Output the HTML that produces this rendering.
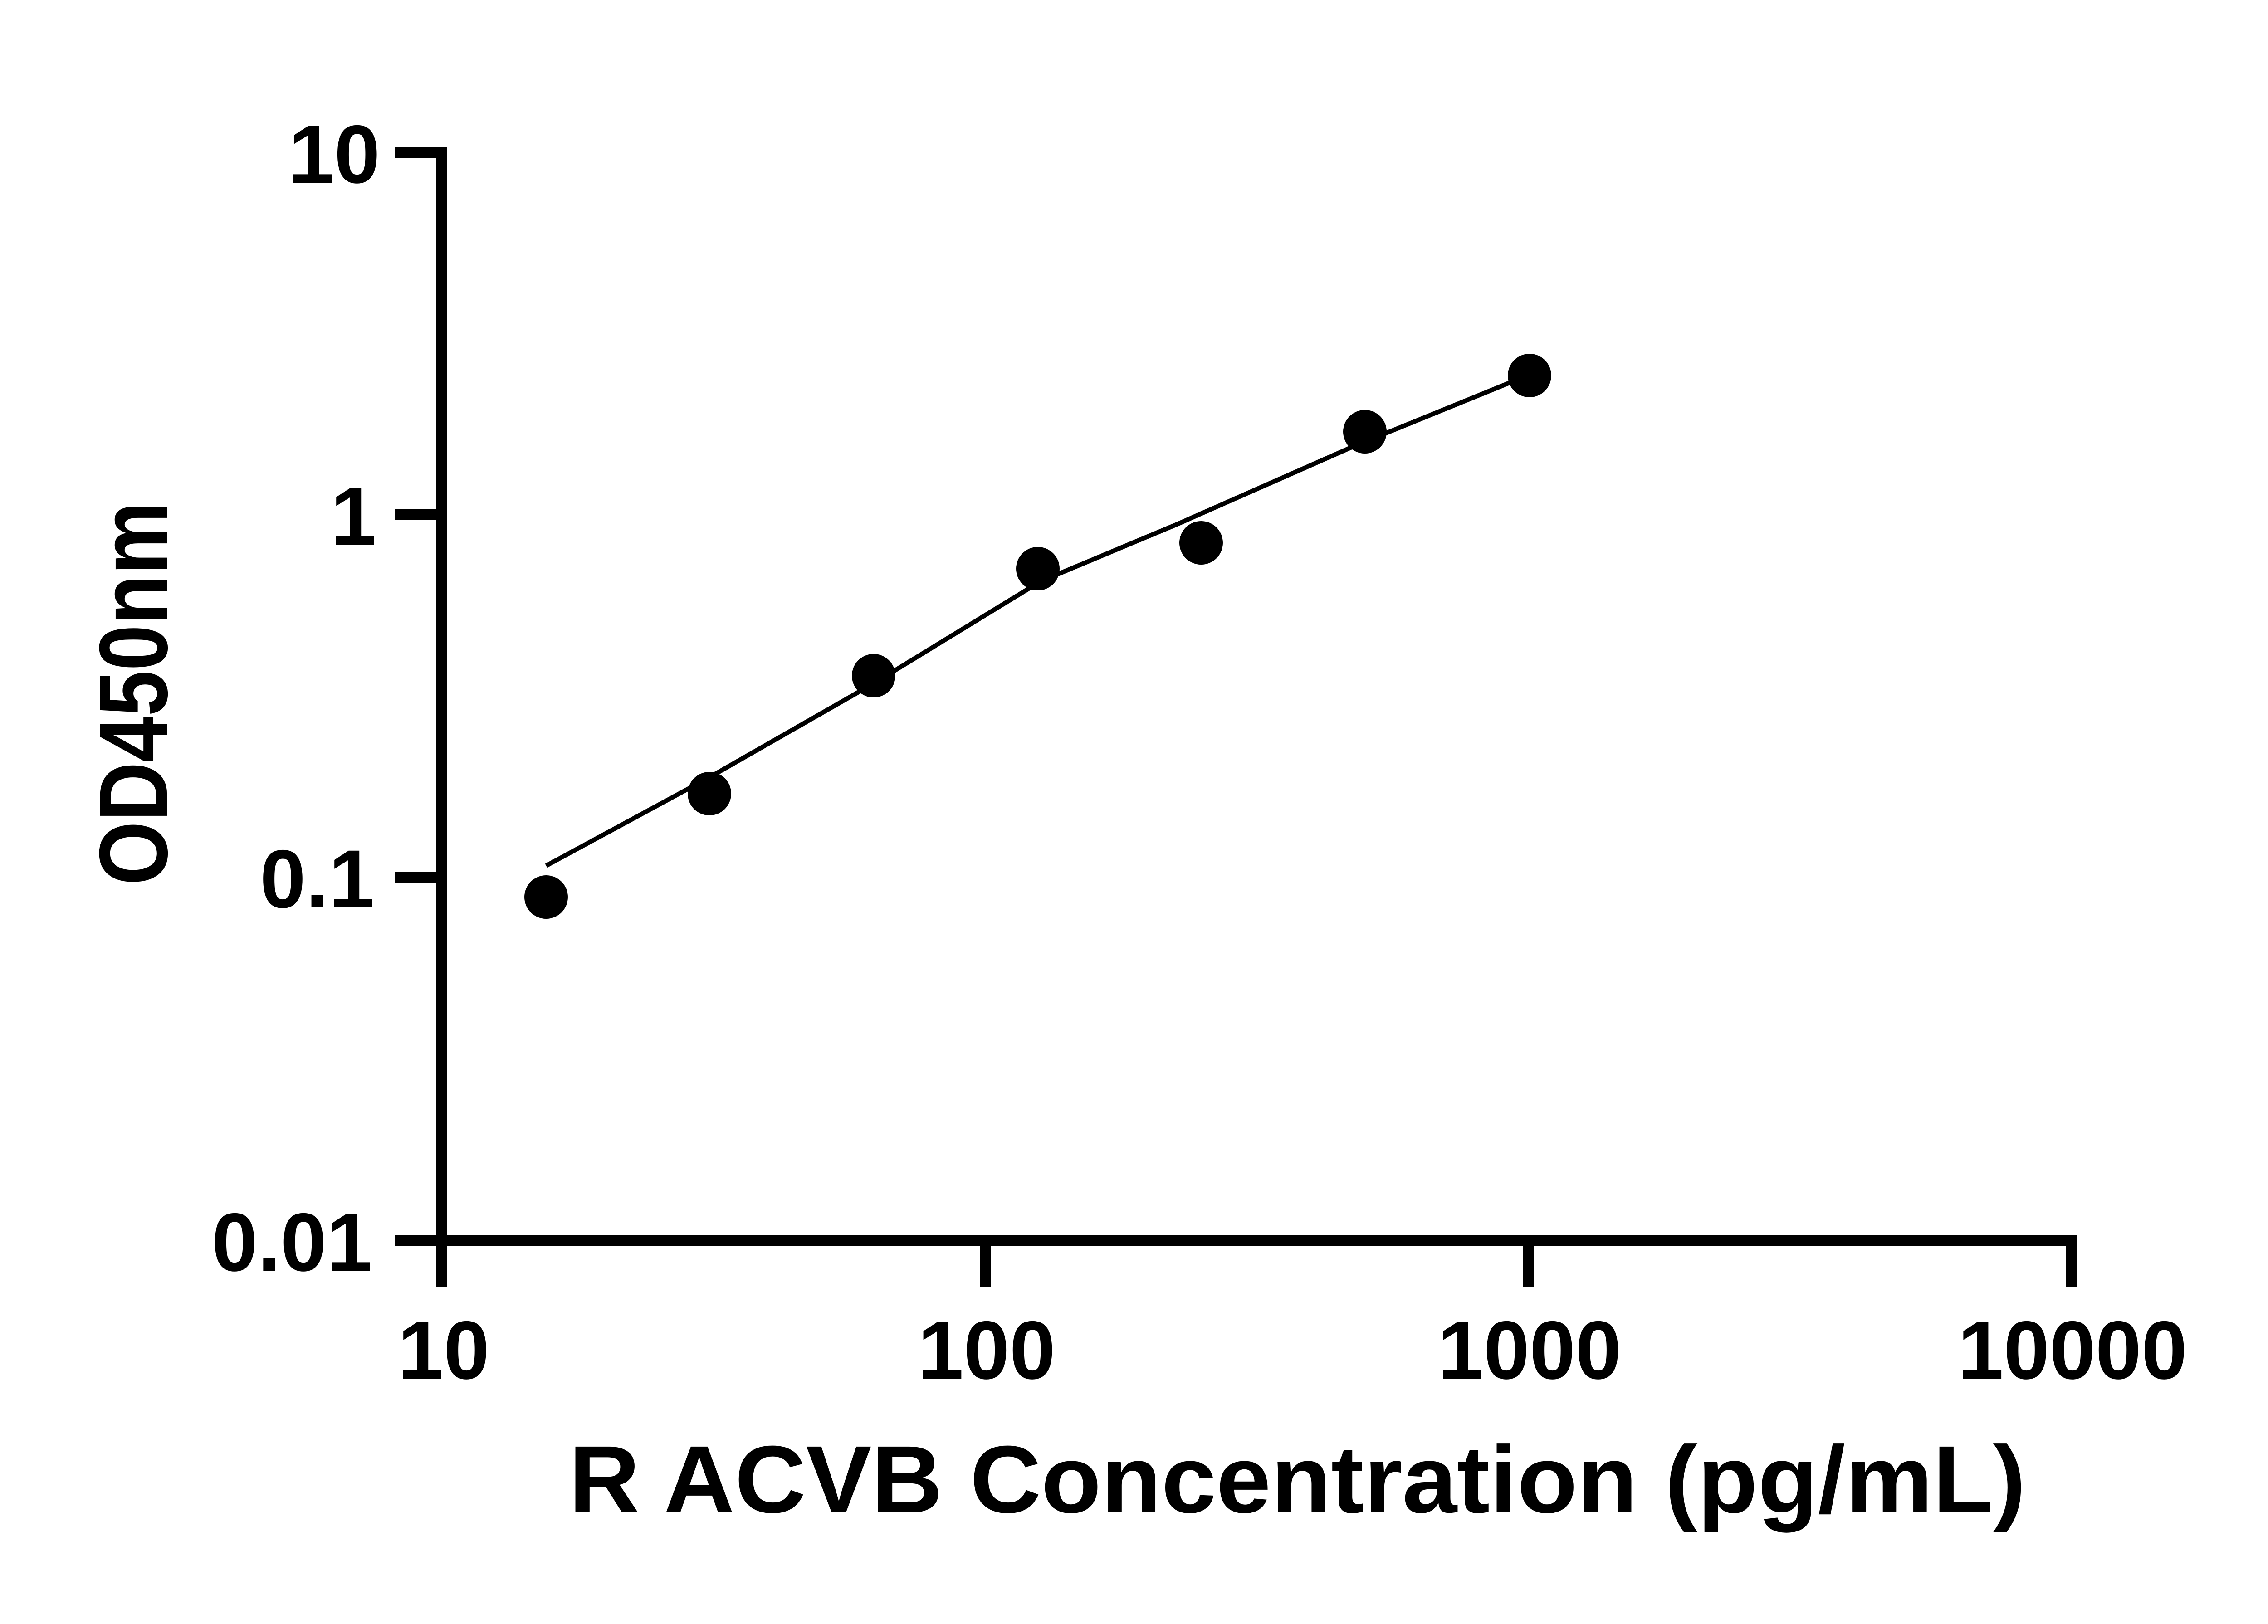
<!DOCTYPE html>
<html><head><style>html,body{margin:0;padding:0;background:#fff}</style></head>
<body>
<svg width="5115" height="3576" xmlns="http://www.w3.org/2000/svg" font-family="Liberation Sans, sans-serif" font-weight="bold">
<rect width="5115" height="3576" fill="#fff"/>
<g stroke="#000" stroke-width="24" fill="none">
<polyline points="871,336 973,336 973,2838"/>
<line x1="871" y1="1135" x2="973" y2="1135"/>
<line x1="871" y1="1935" x2="973" y2="1935"/>
<line x1="871" y1="2736" x2="4578" y2="2736"/>
<line x1="2172" y1="2736" x2="2172" y2="2838"/>
<line x1="3369" y1="2736" x2="3369" y2="2838"/>
<line x1="4566" y1="2736" x2="4566" y2="2838"/>
</g>
<polyline points="1204,1909 1564,1714 1926,1507 2294,1282 2595,1156 2980,986 3372,826" fill="none" stroke="#000" stroke-width="10"/>
<g fill="#000">
<circle cx="1204" cy="1978" r="48"/><circle cx="1564" cy="1750" r="48"/><circle cx="1926" cy="1490" r="48"/>
<circle cx="2288" cy="1254" r="48"/><circle cx="2648" cy="1197" r="48"/><circle cx="3009" cy="952" r="48"/>
<circle cx="3372" cy="828" r="48"/>
</g>
<g font-size="182" text-anchor="end">
<text x="838" y="403">10</text>
<text x="830" y="1201">1</text>
<text x="826" y="2001">0.1</text>
<text x="821" y="2802">0.01</text>
</g>
<g font-size="182" text-anchor="middle">
<text x="978" y="3040">10</text>
<text x="2175" y="3040">100</text>
<text x="3372" y="3040">1000</text>
<text x="4569" y="3040">10000</text>
</g>
<text x="1254" y="3335" font-size="211" textLength="3212" lengthAdjust="spacingAndGlyphs">R ACVB Concentration (pg/mL)</text>
<text transform="translate(368,1952) rotate(-90)" font-size="214" textLength="846" lengthAdjust="spacingAndGlyphs">OD450nm</text>
</svg>
</body></html>
